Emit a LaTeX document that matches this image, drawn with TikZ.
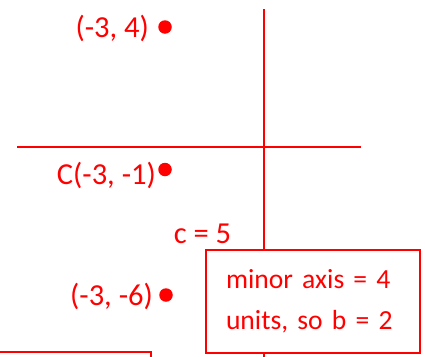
\documentclass[tikz,border=0pt]{standalone}
\usepackage{fontspec}
\setmainfont{Carlito}
\usepackage{tikz}
\usetikzlibrary{positioning}

\begin{document}
\begin{tikzpicture}[x=1pt,y=-1pt,
		ptdot/.style={circle,fill=red,inner sep=0pt,minimum size=13.5pt},
		ptlabel/.style={text=red,inner sep=0pt,font=\fontsize{30.5}{36}\selectfont}]
			
			\useasboundingbox (0,0) rectangle (425,356);
			
			\draw[red,line width=2pt] (17,147) -- (361,147);
			\draw[red,line width=2pt] (263.5,9) -- (263.5,362);
			
			\node[ptdot] (top) at (165,27) {};
			\node[ptlabel,anchor=base east] (toplbl) at (149,37) {(-3, 4)};
			
			\node[ptdot] (center) at (165,169.5) {};
			\node[ptlabel,anchor=base east] (centerlbl) at (156,184.5) {C(-3, -1)};
			
			\node[ptdot] (bottom) at (166,295) {};
			\node[ptlabel,anchor=base east] (bottomlbl) at (153,305) {(-3, -6)};
			
			\node[ptlabel,anchor=base] (clbl) at (202.5,243) {c = 5};
			
			\node[draw=red,line width=2pt,fill=white,text=red,anchor=north west,align=left,
				text width=174pt,inner xsep=20pt,inner ysep=19.5pt,
				font=\fontsize{27.6}{41}\selectfont] (note) at (205,249)
			{minor axis = 4\\units, so b = 2};
			
			\node[draw=red,line width=2pt,anchor=north east,minimum width=170pt,
				minimum height=40pt] (nextnote) at (152,351) {};
			
		\end{tikzpicture}
\end{document}
